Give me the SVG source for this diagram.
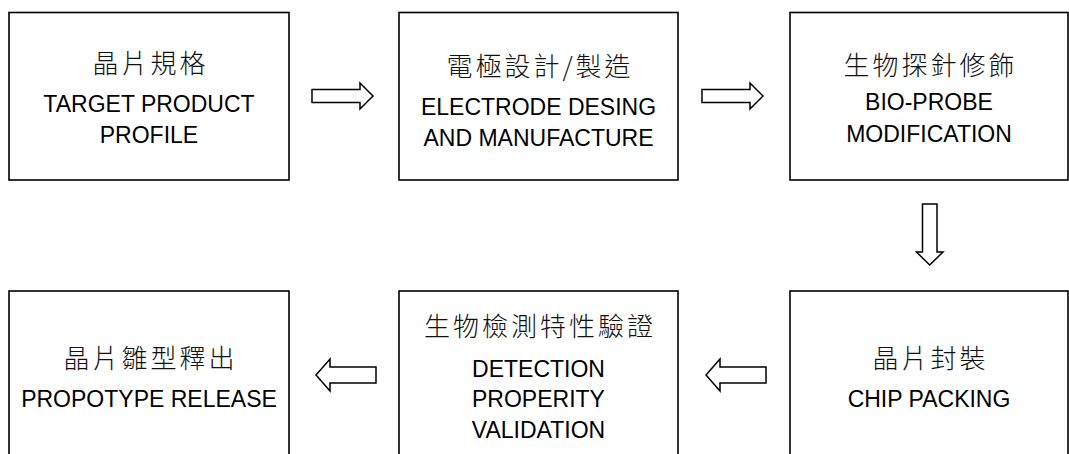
<svg xmlns="http://www.w3.org/2000/svg" width="1069" height="454" viewBox="0 0 1069 454">
<style>
.box{fill:#fff;stroke:#000;stroke-width:1.6}
.arr{fill:#fff;stroke:#000;stroke-width:1.5;stroke-linejoin:miter}
.zh{font-family:"Noto Sans CJK TC","Noto Sans CJK SC",sans-serif;font-size:26px;font-weight:300;letter-spacing:3px;fill:#111;text-anchor:middle}
.en{font-family:"Liberation Sans",Arial,sans-serif;font-size:23px;fill:#000;text-anchor:middle}
</style>
<rect width="1069" height="454" fill="#fff"/>
<g id="connectors">
<path class="arr" d="M312,89.5 H360 V83 L373,96 L360,109 V102.5 H312 Z"/>
<path class="arr" d="M702,89.5 H750 V83 L763,96 L750,109 V102.5 H702 Z"/>
<path class="arr" d="M922.5,204 H937 V252 H943 L929.7,265 L916.5,252 H922.5 Z"/>
<path class="arr" d="M376,367 H330 V359 L316,375 L330,391 V383 H376 Z"/>
<path class="arr" d="M766,367 H720 V359 L706,375 L720,391 V383 H766 Z"/>
</g>
<g id="node1">
<rect class="box" x="9" y="12.5" width="280" height="167.5"/>
<text class="zh" x="150.5" y="73">晶片規格</text>
<text class="en" x="149" y="112">TARGET PRODUCT</text>
<text class="en" x="149" y="143">PROFILE</text>
</g>
<g id="node2">
<rect class="box" x="399" y="12.5" width="279" height="167.5"/>
<text class="zh" x="540" y="76">電極設計/製造</text>
<text class="en" x="538.5" y="115">ELECTRODE DESING</text>
<text class="en" x="538.5" y="146">AND MANUFACTURE</text>
</g>
<g id="node3">
<rect class="box" x="790" y="12.5" width="278" height="167.5"/>
<text class="zh" x="930.5" y="75">生物探針修飾</text>
<text class="en" x="929" y="110">BIO-PROBE</text>
<text class="en" x="929" y="142">MODIFICATION</text>
</g>
<g id="node4">
<rect class="box" x="9" y="291" width="280" height="180"/>
<text class="zh" x="150.5" y="368">晶片雛型釋出</text>
<text class="en" x="149" y="407">PROPOTYPE RELEASE</text>
</g>
<g id="node5">
<rect class="box" x="399" y="291" width="279" height="180"/>
<text class="zh" x="540" y="336">生物檢測特性驗證</text>
<text class="en" x="538.5" y="377">DETECTION</text>
<text class="en" x="538.5" y="407">PROPERITY</text>
<text class="en" x="538.5" y="438">VALIDATION</text>
</g>
<g id="node6">
<rect class="box" x="790" y="291" width="278" height="180"/>
<text class="zh" x="930.5" y="368">晶片封裝</text>
<text class="en" x="929" y="407">CHIP PACKING</text>
</g>
</svg>
